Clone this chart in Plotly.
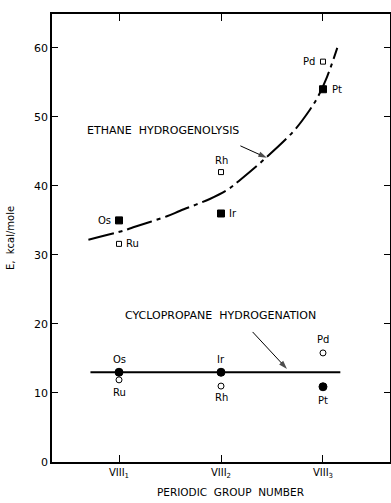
import plotly.graph_objects as go

# Ethane hydrogenolysis (kcal/mole)
eth_metals = ["Os", "Ru", "Ir", "Rh", "Pt", "Pd"]
eth_group = [1, 1, 2, 2, 3, 3]
eth_E = [35.0, 31.6, 36.0, 42.0, 54.0, 58.0]
eth_filled = [True, False, True, False, True, False]

# Fitted ethane curve
curve_x = [0.70, 1.04, 1.14, 1.47, 1.60, 1.89, 2.06, 2.19, 2.42, 2.71, 2.87, 2.95, 3.04, 3.14]
curve_E = [32.2, 33.5, 34.0, 35.6, 36.4, 38.1, 39.4, 40.9, 43.8, 47.9, 51.0, 52.9, 55.8, 60.0]

# Cyclopropane hydrogenation
cyc_metals = ["Os", "Ru", "Ir", "Rh", "Pd", "Pt"]
cyc_group = [1, 1, 2, 2, 3, 3]
cyc_E = [13.0, 11.9, 13.0, 11.0, 15.8, 10.9]
cyc_filled = [True, False, True, False, False, True]
cyc_line_x = [0.72, 3.17]
cyc_line_E = [13.0, 13.0]

# Pointer arrows (tail -> head) in data units
eth_arrow_x = [2.19, 2.45]
eth_arrow_E = [45.8, 44.06]
cyc_arrow_x = [2.31, 2.647]
cyc_arrow_E = [18.84, 13.48]

tick_vals = [1, 2, 3]
tick_text = ["VIII<sub>1</sub>", "VIII<sub>2</sub>", "VIII<sub>3</sub>"]

FONT = "DejaVu Sans"
fig = go.Figure()

fig.add_trace(go.Scatter(x=curve_x, y=curve_E, mode="lines", line=dict(color="#000", width=2, dash="26px,5px,4px,5px", shape="spline"), hoverinfo="skip"))
fig.add_trace(go.Scatter(x=cyc_line_x, y=cyc_line_E, mode="lines", line=dict(color="#000", width=2), hoverinfo="skip"))

for ax_, ay_ in [(eth_arrow_x, eth_arrow_E), (cyc_arrow_x, cyc_arrow_E)]:
    fig.add_trace(go.Scatter(x=ax_, y=ay_, mode="lines+markers", line=dict(color="#000", width=1),
                             marker=dict(symbol=["circle", "arrow"], size=[0, 9], angleref="previous",
                                         color="#000", line=dict(width=0)),
                             hoverinfo="skip"))

fig.add_trace(go.Scatter(
    x=eth_group, y=eth_E, mode="markers",
    marker=dict(symbol=["square" if f else "square-open" for f in eth_filled],
                size=[7 if f else 5 for f in eth_filled], color="#000", opacity=1, line=dict(color="#000", width=1))))
fig.add_trace(go.Scatter(
    x=cyc_group, y=cyc_E, mode="markers",
    marker=dict(symbol=["circle" if f else "circle-open" for f in cyc_filled],
                size=[8 if f else 6 for f in cyc_filled], color="#000", opacity=1, line=dict(color="#000", width=1))))

ann = []
def lab(text, x, y, xs=0, ys=0, xa="center"):
    ann.append(dict(x=x, y=y, text=text, showarrow=False, xshift=xs, yshift=ys, xanchor=xa,
                    font=dict(family=FONT, size=10, color="black")))

# ethane labels
lab("Os", 1, 35.0, xs=-6, xa="right")
lab("Ru", 1, 31.6, xs=5, xa="left")
lab("Rh", 2, 42.0, ys=12)
lab("Ir", 2, 36.0, xs=6, xa="left")
lab("Pd", 3, 58.0, xs=-6, xa="right")
lab("Pt", 3, 54.0, xs=7, xa="left")
# cyclopropane labels
lab("Os", 1, 13.0, ys=13)
lab("Ru", 1, 11.9, ys=-13)
lab("Ir", 2, 13.0, ys=13)
lab("Rh", 2, 11.0, ys=-11)
lab("Pd", 3, 15.8, ys=13)
lab("Pt", 3, 10.9, ys=-14)

ann.append(dict(x=0.667, y=47.97, text="ETHANE  HYDROGENOLYSIS", showarrow=False, xanchor="left",
                font=dict(family=FONT, size=11, color="black")))
ann.append(dict(x=1.04, y=21.16, text="CYCLOPROPANE  HYDROGENATION", showarrow=False, xanchor="left",
                font=dict(family=FONT, size=11, color="black")))
ann.append(dict(x=0.5, y=0, xref="paper", yref="paper", yshift=-38, xshift=9, text="PERIODIC  GROUP  NUMBER",
                showarrow=False, font=dict(family=FONT, size=10.5, color="black")))

fig.update_layout(
    width=391, height=503, margin=dict(l=52, r=1, t=14, b=41, autoexpand=False),
    paper_bgcolor="white", plot_bgcolor="white", showlegend=False,
    annotations=ann, font=dict(family=FONT, size=10, color="black"),
    xaxis=dict(range=[0.343, 3.657], tickvals=tick_vals, ticktext=tick_text, ticks="inside", ticklen=7,
               tickcolor="black", showline=True, linecolor="black", linewidth=1.5, mirror="ticks",
               showgrid=False, zeroline=False, tickfont=dict(family=FONT, size=10), automargin=False),
    yaxis=dict(range=[0, 64.9], tickvals=[0, 10, 20, 30, 40, 50, 60], ticks="inside", ticklen=6,
               tickcolor="black", showline=True, linecolor="black", linewidth=1.5, mirror="ticks",
               showgrid=False, zeroline=False, tickfont=dict(family=FONT, size=11), automargin=False,
               title=dict(text="E,  kcal/mole", font=dict(family=FONT, size=10), standoff=18)),
)

fig.write_html("out.html", config={"displayModeBar": False},
               post_script="document.body.style.margin='0';document.body.style.overflow='hidden';")
